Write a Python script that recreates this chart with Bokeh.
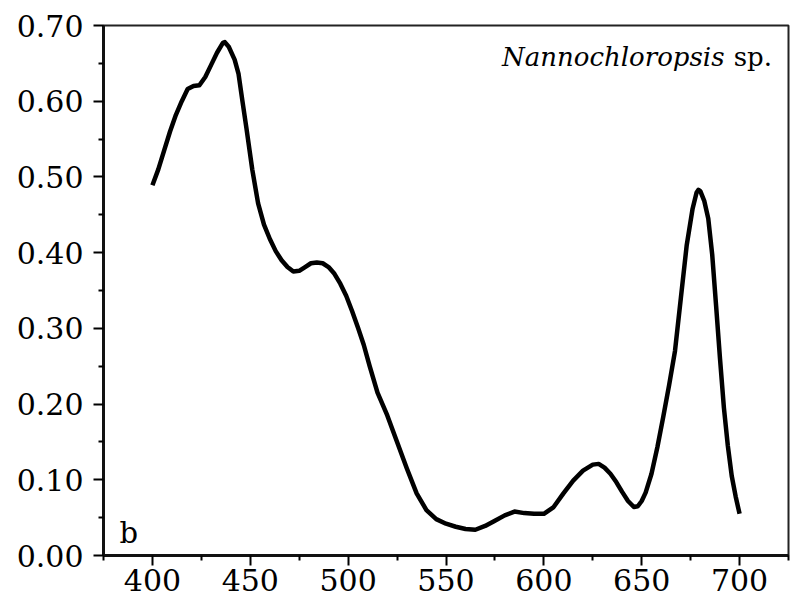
from bokeh.plotting import figure
from bokeh.embed import file_html
from bokeh.resources import INLINE
from bokeh.models import FixedTicker, PrintfTickFormatter, Range1d, Label

wavelength = [400, 403, 406, 409, 412, 415, 418, 421, 424, 427, 430, 433, 436, 437, 439,
              442, 444, 446, 448, 451, 454, 457, 460, 463, 466, 469, 472, 475, 478, 481,
              484, 487, 490, 493, 496, 499, 502, 505, 508, 511, 515, 520, 525, 530, 535,
              540, 545, 550, 555, 560, 565, 570, 575, 580, 585, 590, 595, 600, 605, 610,
              615, 620, 625, 628, 631, 634, 637, 640, 643, 646, 648, 650, 652, 655, 658,
              661, 664, 667, 670, 673, 676, 678, 679, 680, 682, 684, 686, 688, 690, 692,
              694, 696, 698, 700]
absorbance = [0.489, 0.510, 0.535, 0.560, 0.582, 0.600, 0.616, 0.620, 0.621, 0.632, 0.648,
              0.664, 0.677, 0.678, 0.672, 0.655, 0.636, 0.600, 0.565, 0.510, 0.465, 0.437,
              0.418, 0.402, 0.390, 0.381, 0.375, 0.376, 0.381, 0.386, 0.387, 0.386, 0.381,
              0.372, 0.359, 0.343, 0.323, 0.301, 0.278, 0.250, 0.215, 0.185, 0.150, 0.115,
              0.082, 0.060, 0.048, 0.042, 0.038, 0.035, 0.034, 0.039, 0.046, 0.053, 0.058,
              0.056, 0.055, 0.055, 0.064, 0.082, 0.099, 0.112, 0.120, 0.121, 0.116, 0.108,
              0.097, 0.084, 0.072, 0.064, 0.065, 0.072, 0.083, 0.108, 0.143, 0.183, 0.225,
              0.270, 0.340, 0.410, 0.458, 0.479, 0.483, 0.481, 0.468, 0.445, 0.398, 0.330,
              0.260, 0.195, 0.145, 0.105, 0.078, 0.055]

x_ticks = [400, 450, 500, 550, 600, 650, 700]
y_ticks = [0.0, 0.1, 0.2, 0.3, 0.4, 0.5, 0.6, 0.7]
species = "Nannochloropsis"
species_suffix = "sp."
panel_label = "b"

FONT = "DejaVu Serif"

p = figure(width=790, height=603, output_backend="svg", toolbar_location=None,
           x_range=Range1d(375, 725), y_range=Range1d(0, 0.70),
           min_border_left=103, min_border_top=25, min_border_right=2, min_border_bottom=48)

p.line(wavelength, absorbance, line_color="black", line_width=4.5, line_join="round")

p.grid.visible = False
p.outline_line_color = "#222222"
p.outline_line_width = 2

for ax in (p.xaxis[0], p.yaxis[0]):
    ax.axis_line_width = 3
    ax.axis_line_color = "#111111"
    ax.major_tick_line_width = 2
    ax.minor_tick_line_width = 2
    ax.major_tick_in = 0
    ax.major_tick_out = 10
    ax.minor_tick_in = 0
    ax.minor_tick_out = 5
    ax.major_label_text_font = FONT
    ax.major_label_text_font_size = "30px"
    ax.major_label_text_color = "black"

p.xaxis.ticker = FixedTicker(ticks=x_ticks, minor_ticks=[375, 425, 475, 525, 575, 625, 675, 725])
p.yaxis.ticker = FixedTicker(ticks=y_ticks, minor_ticks=[0.05, 0.15, 0.25, 0.35, 0.45, 0.55, 0.65])
p.yaxis.formatter = PrintfTickFormatter(format="%.2f")
p.xaxis.major_label_standoff = 3
p.yaxis.major_label_standoff = 10

p.add_layout(Label(x=692.3, y=0.658, text=species, text_font=FONT, text_font_style="italic",
                   text_font_size="26px", text_align="right", text_baseline="alphabetic",
                   text_color="black"))
p.add_layout(Label(x=697.0, y=0.658, text=species_suffix, text_font=FONT,
                   text_font_size="26px", text_align="left", text_baseline="alphabetic",
                   text_color="black"))
p.add_layout(Label(x=383.2, y=0.030, text=panel_label, text_font=FONT,
                   text_font_size="29px", text_align="left", text_baseline="alphabetic",
                   text_color="black"))

open("out.html", "w").write(file_html(p, INLINE))
